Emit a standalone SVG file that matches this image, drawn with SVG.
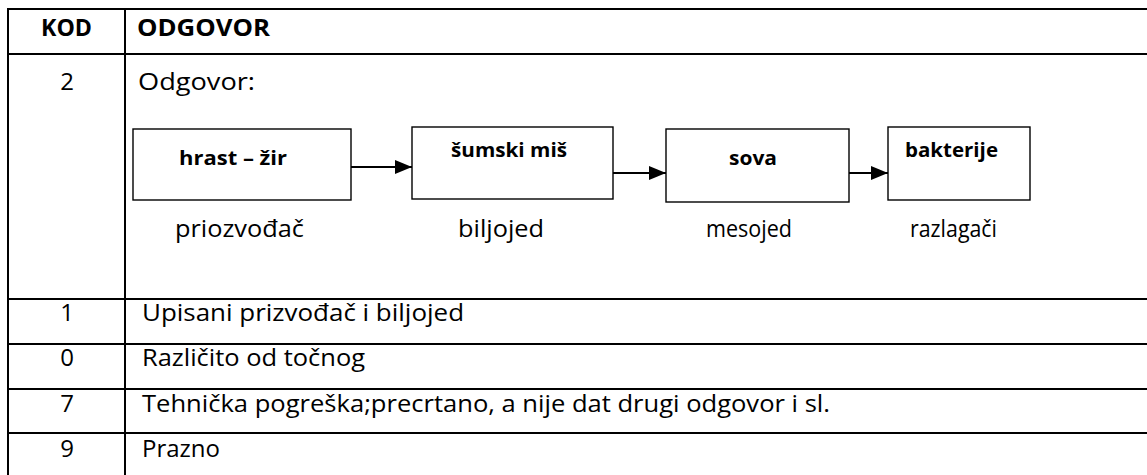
<svg xmlns="http://www.w3.org/2000/svg" width="1147" height="475" viewBox="0 0 1147 475" xml:space="preserve">
  <style>
    .grid { stroke: #000; stroke-width: 2; fill: none; }
    .box { fill: #fff; stroke: #000; stroke-width: 1.4; }
    .t { font-family: "Open Sans", "Noto Sans", "Liberation Sans", sans-serif; font-size: 24px; fill: #000; }
    .h { font-family: "Open Sans", "Noto Sans", "Liberation Sans", sans-serif; font-size: 23px; font-weight: bold; fill: #000; }
    .b { font-family: "Open Sans", "Noto Sans", "Liberation Sans", sans-serif; font-size: 19px; font-weight: bold; fill: #000; }
    .c { text-anchor: middle; }
    .link { stroke: #000; stroke-width: 2; fill: none; }
  </style>
  <defs>
    <marker id="arrow" markerUnits="userSpaceOnUse" markerWidth="18" markerHeight="14" refX="17" refY="7" orient="auto">
      <path d="M0,0 L17,7 L0,14 Z" fill="#000"/>
    </marker>
  </defs>
  <rect width="1147" height="475" fill="#fff"/>

  <!-- table grid -->
  <g id="table">
    <line class="grid" x1="8" y1="9" x2="1147" y2="9"/>
    <line class="grid" x1="8" y1="54" x2="1147" y2="54"/>
    <line class="grid" x1="8" y1="299" x2="1147" y2="299"/>
    <line class="grid" x1="8" y1="344" x2="1147" y2="344"/>
    <line class="grid" x1="8" y1="389" x2="1147" y2="389"/>
    <line class="grid" x1="8" y1="433" x2="1147" y2="433"/>
    <line class="grid" x1="8" y1="8" x2="8" y2="475"/>
    <line class="grid" x1="125" y1="8" x2="125" y2="475"/>

    <text class="h c" x="66.5" y="36" textLength="51" lengthAdjust="spacingAndGlyphs">KOD</text>
    <text class="h" x="137" y="36" textLength="133" lengthAdjust="spacingAndGlyphs">ODGOVOR</text>

    <text class="t c" x="67" y="90">2</text>
    <text class="t" x="138" y="90" textLength="117" lengthAdjust="spacingAndGlyphs">Odgovor:</text>

    <text class="t c" x="67" y="321">1</text>
    <text class="t" x="142" y="321" textLength="322" lengthAdjust="spacingAndGlyphs">Upisani prizvođač  i biljojed</text>
    <text class="t c" x="67" y="366">0</text>
    <text class="t" x="142" y="366" textLength="223" lengthAdjust="spacingAndGlyphs">Različito od točnog</text>
    <text class="t c" x="67" y="412">7</text>
    <text class="t" x="142" y="412" textLength="688" lengthAdjust="spacingAndGlyphs">Tehnička pogreška;precrtano, a nije dat drugi odgovor i sl.</text>
    <text class="t c" x="67" y="457">9</text>
    <text class="t" x="142" y="457" textLength="78" lengthAdjust="spacingAndGlyphs">Prazno</text>
  </g>

  <!-- food chain connectors -->
  <g id="connectors">
    <line class="link" x1="351" y1="167" x2="412" y2="167" marker-end="url(#arrow)"/>
    <line class="link" x1="613" y1="173" x2="666" y2="173" marker-end="url(#arrow)"/>
    <line class="link" x1="849" y1="173" x2="888" y2="173" marker-end="url(#arrow)"/>
  </g>

  <g id="node-hrast">
    <rect class="box" x="133" y="129" width="218" height="71"/>
    <text class="b" x="179" y="165" textLength="108" lengthAdjust="spacingAndGlyphs">hrast – žir</text>
    <text class="t" x="175" y="237" textLength="129" lengthAdjust="spacingAndGlyphs">priozvođač</text>
  </g>
  <g id="node-mis">
    <rect class="box" x="412" y="127" width="201" height="72"/>
    <text class="b" x="451" y="157" textLength="116" lengthAdjust="spacingAndGlyphs">šumski miš</text>
    <text class="t" x="458" y="237" textLength="86" lengthAdjust="spacingAndGlyphs">biljojed</text>
  </g>
  <g id="node-sova">
    <rect class="box" x="666" y="129" width="183" height="73"/>
    <text class="b" x="729" y="165" textLength="48" lengthAdjust="spacingAndGlyphs">sova</text>
    <text class="t" x="706" y="237" textLength="86" lengthAdjust="spacingAndGlyphs">mesojed</text>
  </g>
  <g id="node-bakterije">
    <rect class="box" x="888" y="127" width="142" height="73"/>
    <text class="b" x="905" y="157" textLength="93" lengthAdjust="spacingAndGlyphs">bakterije</text>
    <text class="t" x="910" y="237" textLength="87" lengthAdjust="spacingAndGlyphs">razlagači</text>
  </g>
</svg>
